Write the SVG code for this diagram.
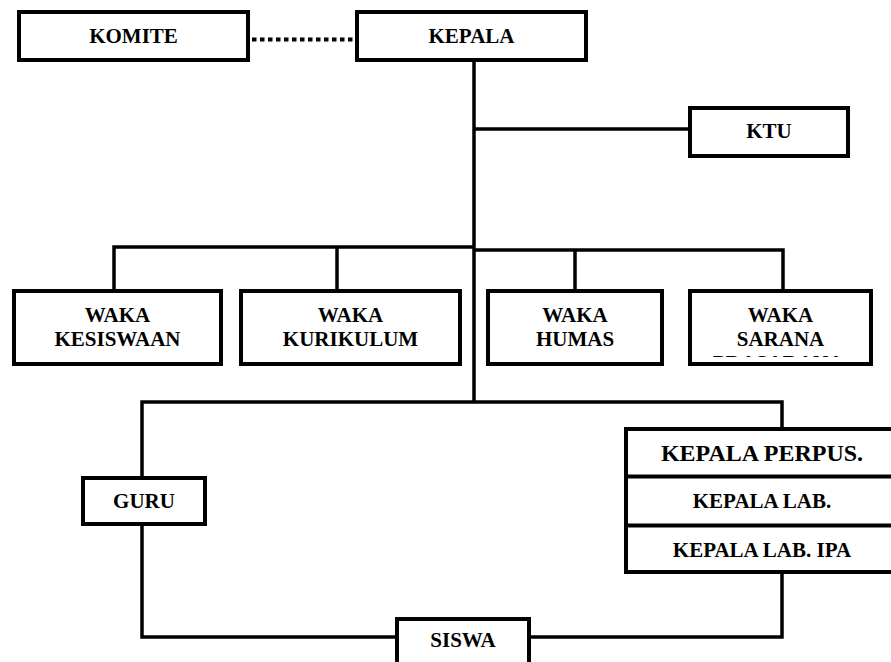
<svg xmlns="http://www.w3.org/2000/svg" width="891" height="662" viewBox="0 0 891 662">
<style>
.box{fill:#fff;stroke:#000;stroke-width:4}
.ln{fill:none;stroke:#000;stroke-width:3.5}
.dot{fill:none;stroke:#000;stroke-width:4;stroke-dasharray:4.5 3.5}
.t{font-family:'Liberation Serif','Times New Roman',Times,serif;font-weight:700;font-size:21px;text-anchor:middle;fill:#000}
.big{font-size:24px}
</style>
<defs>
<clipPath id="saranaClip"><rect x="690" y="291" width="181" height="66"/></clipPath>
</defs>
<rect width="891" height="662" fill="#fff"/>
<g id="connectors">
<path class="dot" d="M252 39.5 H354"/>
<path class="ln" d="M474 62 V402"/>
<path class="ln" d="M474 129 H688"/>
<path class="ln" d="M114 289 V247 H474"/>
<path class="ln" d="M337 247 V289"/>
<path class="ln" d="M474 250 H783 V289"/>
<path class="ln" d="M575 250 V289"/>
<path class="ln" d="M142 476 V402 H782 V427"/>
<path class="ln" d="M142 526 V637 H395"/>
<path class="ln" d="M531 637 H782 V574"/>
</g>
<g id="komite"><rect class="box" x="19" y="12" width="229" height="48"/><text class="t" x="133.5" y="43">KOMITE</text></g>
<g id="kepala"><rect class="box" x="357" y="12" width="229" height="48"/><text class="t" x="471.5" y="43">KEPALA</text></g>
<g id="ktu"><rect class="box" x="690" y="108" width="158" height="48"/><text class="t" x="769" y="138">KTU</text></g>
<g id="waka-kesiswaan"><rect class="box" x="14" y="291" width="207" height="73"/><text class="t" x="117.5" y="322">WAKA</text><text class="t" x="117.5" y="346">KESISWAAN</text></g>
<g id="waka-kurikulum"><rect class="box" x="241" y="291" width="219" height="73"/><text class="t" x="350.5" y="322">WAKA</text><text class="t" x="350.5" y="346">KURIKULUM</text></g>
<g id="waka-humas"><rect class="box" x="488" y="291" width="174" height="73"/><text class="t" x="575" y="322">WAKA</text><text class="t" x="575" y="346">HUMAS</text></g>
<g id="waka-sarana"><rect class="box" x="690" y="291" width="181" height="73"/><text class="t" x="780.5" y="322">WAKA</text><text class="t" x="780.5" y="346">SARANA</text><g clip-path="url(#saranaClip)"><text class="t" x="778" y="370">PRASARANA</text></g></g>
<g id="kepala-unit"><rect class="box" x="626" y="429" width="290" height="143"/>
<path class="ln" d="M626 476.5 H900 M626 525.5 H900" style="stroke-width:4"/>
<text class="t big" x="762" y="461">KEPALA PERPUS.</text>
<text class="t" x="762" y="508">KEPALA LAB.</text>
<text class="t" x="762" y="557">KEPALA LAB. IPA</text></g>
<g id="guru"><rect class="box" x="83" y="478" width="122" height="46"/><text class="t" x="144" y="508">GURU</text></g>
<g id="siswa"><rect class="box" x="397" y="619" width="132" height="60"/><text class="t" x="463" y="647">SISWA</text></g>
</svg>
